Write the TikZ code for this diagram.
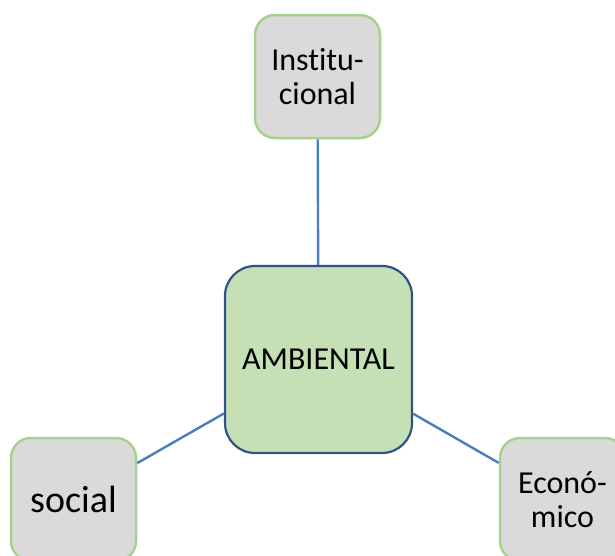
\documentclass[tikz,border=0pt]{standalone}
\usepackage{fontspec}
\setmainfont{Carlito}[Ligatures=NoCommon]
\definecolor{hubfill}{HTML}{C5E0B4}
\definecolor{hubline}{HTML}{2F528F}
\definecolor{leaffill}{HTML}{DADADA}
\definecolor{leafline}{HTML}{A9D18E}
\definecolor{linkcol}{HTML}{4A7EBB}
\begin{document}
\begin{tikzpicture}[x=1pt,y=-1pt,
  hub/.style={draw=hubline, fill=hubfill, line width=2.2pt, rounded corners=30pt,
    minimum width=187pt, minimum height=187pt, inner sep=0pt, align=center,
    font=\fontsize{32}{34}\selectfont},
  leaf/.style={draw=leafline, fill=leaffill, line width=2.5pt, rounded corners=20pt,
    minimum width=125pt, minimum height=123pt, inner sep=0pt, align=center,
    font=\fontsize{32}{34}\selectfont},
  link/.style={draw=linkcol, line width=2.4pt}]
\useasboundingbox (0,0) rectangle (615,555);
\node[hub] (amb) at (318.5,359.5) {AMBIENTAL};
\node[leaf] (inst) at (317.5,76.5) {Institu-\\cional};
\node[leaf, font=\fontsize{38}{40}\selectfont] (soc) at (73.5,499.5) {social};
\node[leaf] (eco) at (562.5,499.5) {Econó-\\mico};
\draw[link] (inst) -- (amb);
\draw[link] (soc) -- (amb);
\draw[link] (eco) -- (amb);
\end{tikzpicture}
\end{document}
